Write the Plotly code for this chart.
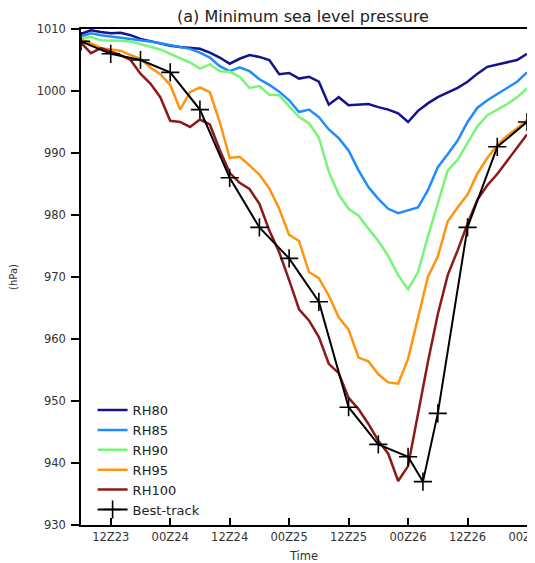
import plotly.graph_objects as go

# time in hours since 00Z23 (model output every 2 h)
hours = list(range(6, 97, 2))

rh80 = [1009.2, 1009.8, 1009.5, 1009.3, 1009.4, 1009.0, 1008.4, 1008.0, 1007.6, 1007.3,
        1007.1, 1006.9, 1006.8, 1006.2, 1005.4, 1004.4, 1005.2, 1005.8, 1005.5, 1005.0,
        1002.7, 1002.9, 1002.0, 1002.3, 1001.5, 997.8, 999.0, 997.7, 997.8, 997.9,
        997.4, 997.0, 996.4, 995.0, 996.8, 998.0, 999.0, 999.8, 1000.5, 1001.5,
        1002.8, 1003.9, 1004.3, 1004.7, 1005.0, 1006.0]
rh85 = [1008.8, 1009.3, 1009.0, 1008.8, 1008.7, 1008.5, 1008.3, 1008.0, 1007.7, 1007.4,
        1007.1, 1006.8, 1006.2, 1005.4, 1004.0, 1003.2, 1003.8, 1003.2, 1001.9, 1001.0,
        999.9, 998.5, 996.6, 997.0, 995.8, 993.8, 992.4, 990.4, 987.2, 984.5,
        982.6, 981.0, 980.3, 980.8, 981.2, 984.0, 987.7, 989.8, 992.0, 995.0,
        997.3, 998.5, 999.5, 1000.6, 1001.5, 1003.0]
rh90 = [1008.5, 1008.7, 1008.2, 1008.2, 1008.1, 1008.0, 1007.6, 1007.1, 1006.7, 1006.0,
        1005.3, 1004.6, 1003.6, 1004.3, 1003.2, 1003.1, 1002.3, 1000.5, 1000.8, 999.4,
        999.3, 997.6, 995.8, 994.8, 992.5, 987.0, 983.3, 981.0, 979.9, 977.8,
        975.8, 973.4, 970.3, 968.0, 970.8, 976.5, 982.0, 987.2, 988.9, 991.5,
        994.3, 996.1, 997.0, 997.9, 999.0, 1000.4]
rh95 = [1008.3, 1007.7, 1006.9, 1006.7, 1006.5, 1005.8, 1005.2, 1003.8, 1002.7, 1001.0,
        997.0, 999.8, 1000.6, 999.8, 995.0, 989.2, 989.4, 988.0, 986.5, 984.3,
        981.0, 976.8, 975.8, 970.8, 969.8, 967.0, 963.5, 961.5, 957.0, 956.4,
        954.3, 953.0, 952.8, 956.8, 963.5, 970.0, 973.3, 979.0, 981.2, 983.3,
        986.7, 989.2, 991.3, 992.8, 994.0, 995.3]
rh100 = [1007.8, 1006.1, 1006.9, 1006.3, 1005.8, 1005.0, 1002.8, 1001.2, 999.0, 995.2,
         995.0, 994.2, 995.4, 994.6, 990.5, 986.8, 985.2, 984.2, 981.8, 977.5,
         974.0, 969.5, 964.8, 963.0, 960.3, 956.0, 954.5, 950.5, 948.7, 946.3,
         943.6, 941.5, 937.1, 939.5, 948.0, 956.3, 964.0, 970.3, 974.3, 978.6,
         982.5, 984.8, 986.6, 988.7, 990.8, 993.0]

bt_hours = [6, 12, 18, 24, 30, 36, 42, 48, 54, 60, 66, 72, 75, 78, 84, 90, 96]
best_track = [1008, 1006, 1005, 1003, 997, 986, 978, 973, 966, 949, 943, 941, 937, 948, 978, 991, 995]

tick_hours = [12, 24, 36, 48, 60, 72, 84, 96]
tick_labels = ["12Z23", "00Z24", "12Z24", "00Z25", "12Z25", "00Z26", "12Z26", "00Z27"]
y_ticks = [930, 940, 950, 960, 970, 980, 990, 1000, 1010]

series = [
    ("RH80", rh80, "#14148a"),
    ("RH85", rh85, "#1e8cff"),
    ("RH90", rh90, "#78f578"),
    ("RH95", rh95, "#ff9410"),
    ("RH100", rh100, "#8c1a1a"),
]

fig = go.Figure()
for name, vals, col in series:
    fig.add_trace(go.Scatter(x=hours, y=vals, mode="lines", name=name,
                             line=dict(color=col, width=2.5)))
fig.add_trace(go.Scatter(x=bt_hours, y=best_track, mode="lines+markers", name="Best-track",
                         line=dict(color="black", width=2),
                         marker=dict(symbol="cross-thin", size=13,
                                     line=dict(color="black", width=1.6))))

font = "DejaVu Sans, Arial, sans-serif"
W, H = 527, 555  # page body adds an 8px offset
fig.update_layout(
    width=W, height=H,
    margin=dict(l=73, r=8, t=21, b=38, autoexpand=False),
    paper_bgcolor="white", plot_bgcolor="white",
    font=dict(family=font, color="#333333", size=11),
    title=dict(text="(a) Minimum sea level pressure", x=295 / W, xanchor="center",
               y=1 - 8 / H, yanchor="middle",
               font=dict(family=font, size=16, color="#222222")),
    legend=dict(x=0.026, y=0.262, xanchor="left", yanchor="top",
                bgcolor="rgba(0,0,0,0)", font=dict(size=13, color="#222222"),
                tracegroupgap=0, itemwidth=30),
    showlegend=True,
)
fig.update_xaxes(range=[6, 96], tickvals=tick_hours, ticktext=tick_labels,
                 ticks="inside", ticklen=7, tickwidth=1.5, tickcolor="black",
                 showline=True, linecolor="black", linewidth=1.5, mirror=True,
                 showgrid=False, zeroline=False, automargin=False,
                 ticklabeloverflow="allow",
                 tickfont=dict(size=11.5),
                 title=dict(text="Time", font=dict(size=11.5), standoff=10))
fig.update_yaxes(range=[930, 1010], tickvals=y_ticks,
                 ticks="outside", ticklen=8, tickwidth=1.5, tickcolor="black",
                 showline=True, linecolor="black", linewidth=1.5, mirror="ticks",
                 showgrid=False, zeroline=False, automargin=False,
                 tickfont=dict(size=11.5), ticklabelstandoff=3,
                 title=dict(text="(hPa)", font=dict(size=10), standoff=18))

fig.write_html("out.html")
